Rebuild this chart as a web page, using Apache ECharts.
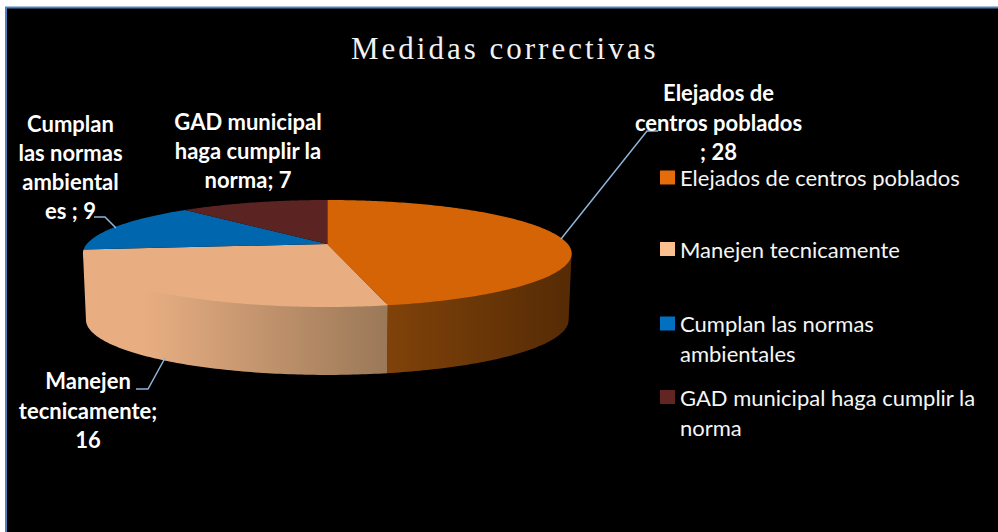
<!DOCTYPE html>
<html>
<head>
<meta charset="utf-8">
<style>
html,body{margin:0;padding:0;background:#fff;}
#c{width:998px;height:532px;}
text[style*="Liberation Serif"]{letter-spacing:3px;}
</style>
<script src="https://cdn.jsdelivr.net/npm/echarts@6/dist/echarts.min.js"></script>
</head>
<body>
<div id="c"></div>
<script>
const chartTitle = 'Medidas correctivas';
const categories = ['Elejados de centros poblados','Manejen tecnicamente','Cumplan las normas ambientales','GAD municipal haga cumplir la norma'];
const values = [28,16,9,7];
const legendLabels = ['Elejados de centros poblados','Manejen tecnicamente','Cumplan las normas\nambientales','GAD municipal haga cumplir la\nnorma'];
const dataLabels = ['Elejados de\ncentros poblados\n; 28','Manejen\ntecnicamente;\n16','Cumplan\nlas normas\nambiental\nes ; 9','GAD municipal\nhaga cumplir la\nnorma; 7'];
const legendColors = ['#E46C0A','#FAC090','#0070C0','#632523'];
const topColors = ['#D46405','#E8AE82','#0066AE','#5B2422'];

// layout of the tilted pie
const P = {cx:327.3, apexY:244, rx:240.5, ry:51.8, k:-0.1776, rxB:237.5, apexYB:310, ryB:53.4};
const wallStops = [
  [[0,'#80420A'],[1,'#552B05']],
  [[0,'#E8AE82'],[0.2,'#E8AE82'],[1,'#9A7858']],
  null, null
];
const labelPos = [[718.5,122],[88,410],[70.5,167],[248,150.5]];
const leaders = [
  [[561,239],[647,131],[658,131]],
  [[165,358],[148,389],[136,389]],
  [[116,228],[105,217],[94,217]],
  null
];
const legendTops = [166.5,238,308.5,382];

const total = values.reduce((a,b)=>a+b,0);
const starts = values.map((_,i)=>values.slice(0,i).reduce((a,b)=>a+b,0));
const toAngle = v => v/total*Math.PI*2;

function topPt(t){
  const u=Math.sin(t), v=-Math.cos(t), d=1+P.k*v;
  return [P.cx+P.rx*u/d, P.apexY+P.ry*v/d];
}
function botPt(t){
  const u=Math.sin(t), v=-Math.cos(t), d=1+P.k*v;
  return [P.cx+P.rxB*u/d, P.apexYB+P.ryB*v/d];
}
function arc(fn,a,b){
  const n=Math.max(2,Math.ceil(Math.abs(b-a)/0.015)), out=[];
  for(let i=0;i<=n;i++) out.push(fn(a+(b-a)*i/n));
  return out;
}
// front wall is visible between the two horizontal extremes of the rim
const visA=Math.acos(P.k), visB=Math.PI*2-visA;

function makeRender(idx){
  return function(params,api){
    const val=api.value(0);
    const a=toAngle(starts[idx]), b=a+toAngle(val);
    const children=[];
    const wa=Math.max(a,visA), wb=Math.min(b,visB);
    if(wb>wa && wallStops[idx]){
      // the wall's upper edge runs slightly under the top face so no seam shows
      const upper=arc(topPt,wa,wb).map(p=>[p[0],p[1]-2]);
      const pts=upper.concat(arc(botPt,wb,wa));
      children.push({type:'polygon',shape:{points:pts},
        style:{fill:new echarts.graphic.LinearGradient(0,0,1,0,wallStops[idx].map(s=>({offset:s[0],color:s[1]})))}});
    }
    const top=[[P.cx,P.apexY]].concat(arc(topPt,a,b));
    children.push({type:'polygon',shape:{points:top},style:{fill:topColors[idx]}});
    if(leaders[idx]){
      children.push({type:'polyline',shape:{points:leaders[idx]},style:{fill:null,stroke:'#8FB3DA',lineWidth:1.5}});
    }
    children.push({type:'text',x:labelPos[idx][0],y:labelPos[idx][1],
      style:{text:dataLabels[idx],fill:'#fff',font:'bold 22px Lato',lineHeight:29.3,align:'center',verticalAlign:'middle'}});
    return {type:'group',children};
  };
}

const chart=echarts.init(document.getElementById('c'),null,{renderer:'svg'});
chart.setOption({
  animation:false,
  backgroundColor:'#fff',
  graphic:[{type:'rect',z:-10,silent:true,shape:{x:6,y:7.5,width:1100,height:700},style:{fill:'#000',stroke:'#4F81BD',lineWidth:2}}],
  title:{text:chartTitle,left:351,top:33,padding:0,textStyle:{fontFamily:'Liberation Serif',fontSize:31,fontWeight:'normal',color:'#F2F2F2'}},
  legend:categories.map((name,i)=>{
    const two=legendLabels[i].includes('\n');
    return {
      left:660,top:legendTops[i],padding:0,orient:'vertical',selectedMode:false,
      itemWidth:15,itemHeight:two?44:14,
      data:[{name,icon:two?'path://M0 0H15V14H0Z M0 44H15':'rect'}],
      formatter:()=>legendLabels[i],
      textStyle:{color:'#F5F5F5',fontFamily:'Lato',fontSize:22,lineHeight:two?30:15}
    };
  }),
  series:categories.map((name,i)=>({
    type:'custom',name,coordinateSystem:'none',
    itemStyle:{color:legendColors[i]},
    data:[[values[i]]],
    renderItem:makeRender(i)
  }))
});
</script>
</body>
</html>
